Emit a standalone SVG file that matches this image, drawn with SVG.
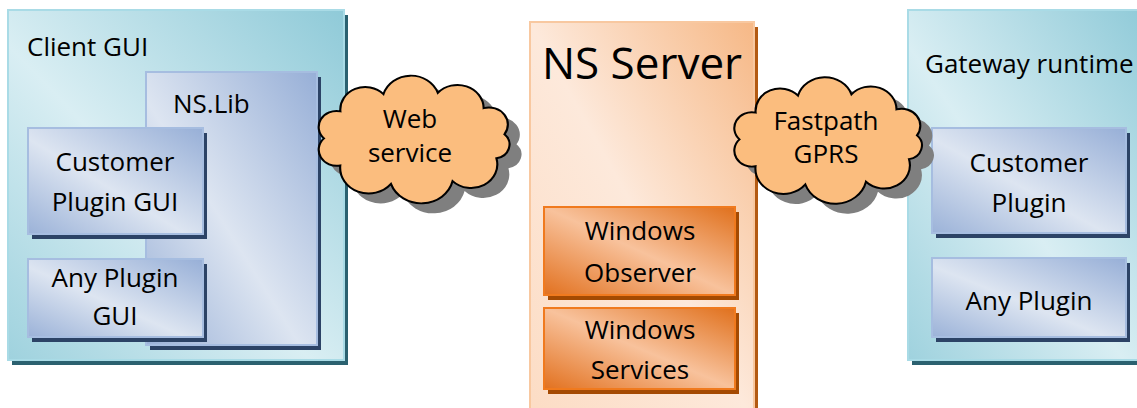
<svg xmlns="http://www.w3.org/2000/svg" width="1137" height="408" viewBox="0 0 1137 408">
<style>
text{font-family:"Open Sans","Liberation Sans",sans-serif;font-size:26px;fill:#000}
.c{text-anchor:middle}
.teal{fill:url(#gTeal);stroke:#a9dbe6;stroke-width:2}
.tealS{fill:#2b6170}
.blue{fill:url(#gBlue);stroke:#a6bde0;stroke-width:2}
.blueS{fill:#2c4366}
.peach{fill:url(#gPeach);stroke:#f8c8a0;stroke-width:2}
.peachS{fill:#b35a12}
.org{fill:url(#gOrg);stroke:#f07a1e;stroke-width:2}
.orgS{fill:#a44a02}
.cloud{fill:#fbbd7e;stroke:#000;stroke-width:1.8}
.cloudS{fill:#7f7f7f}
</style>
<defs>
<linearGradient id="gTeal" x1="0" y1="1" x2="1" y2="0">
<stop offset="0" stop-color="#9fd2de"/><stop offset="0.45" stop-color="#d9eef3"/><stop offset="1" stop-color="#8fcad8"/>
</linearGradient>
<linearGradient id="gBlue" x1="0" y1="1" x2="1" y2="0">
<stop offset="0" stop-color="#9bb2d8"/><stop offset="0.45" stop-color="#dde5f1"/><stop offset="1" stop-color="#97afd7"/>
</linearGradient>
<linearGradient id="gPeach" x1="0" y1="1" x2="1" y2="0">
<stop offset="0" stop-color="#fcdcc4"/><stop offset="0.5" stop-color="#fde9db"/><stop offset="1" stop-color="#f6b886"/>
</linearGradient>
<linearGradient id="gOrg" x1="0" y1="1" x2="1" y2="0">
<stop offset="0" stop-color="#e2711f"/><stop offset="0.5" stop-color="#f8c29c"/><stop offset="1" stop-color="#e0701c"/>
</linearGradient>
<path id="cloudShape" d="M20,62 A15,15 0 0 1 33.8,36.7 A21,21 0 0 1 70,20.6 A24,24 0 0 1 115.7,19.5 A22,22 0 0 1 154.2,33.7 A16,16 0 0 1 171.7,58.2 A13,13 0 0 1 164.9,80.6 A22,22 0 0 1 128.1,101.9 A27,27 0 0 1 76.3,104.5 A24,24 0 0 1 33.7,87.3 A15,15 0 0 1 20,62 Z"/>
</defs>

<g id="client-gui">
<rect class="tealS" x="12" y="15" width="336" height="350"/>
<rect class="teal" x="8" y="10" width="336" height="350"/>
<text x="27" y="56">Client GUI</text>
</g>
<g id="ns-lib">
<rect class="blueS" x="150" y="77" width="171" height="273"/>
<rect class="blue" x="146" y="72" width="171" height="273"/>
<text x="173" y="113">NS.Lib</text>
</g>
<g id="customer-plugin-gui">
<rect class="blueS" x="32" y="133" width="175" height="106"/>
<rect class="blue" x="28" y="128" width="175" height="106"/>
<text class="c" x="115" y="171">Customer</text>
<text class="c" x="115" y="211">Plugin GUI</text>
</g>
<g id="any-plugin-gui">
<rect class="blueS" x="32" y="264" width="175" height="78"/>
<rect class="blue" x="28" y="259" width="175" height="78"/>
<text class="c" x="115" y="287">Any Plugin</text>
<text class="c" x="115" y="325">GUI</text>
</g>

<g id="ns-server">
<rect class="peachS" x="534" y="27" width="224" height="400"/>
<rect class="peach" x="530" y="22" width="224" height="400"/>
<text class="c" x="642" y="79" style="font-size:44px">NS Server</text>
</g>
<g id="windows-observer">
<rect class="orgS" x="548" y="212" width="191" height="88"/>
<rect class="org" x="544" y="207" width="191" height="88"/>
<text class="c" x="640" y="240">Windows</text>
<text class="c" x="640" y="282">Observer</text>
</g>
<g id="windows-services">
<rect class="orgS" x="548" y="313" width="191" height="81"/>
<rect class="org" x="544" y="308" width="191" height="81"/>
<text class="c" x="640" y="339">Windows</text>
<text class="c" x="640" y="379">Services</text>
</g>

<g id="gateway-runtime">
<rect class="tealS" x="912" y="15" width="240" height="350"/>
<rect class="teal" x="908" y="10" width="240" height="350"/>
<text x="925" y="73">Gateway runtime</text>
</g>
<g id="customer-plugin">
<rect class="blueS" x="936" y="133" width="194" height="105"/>
<rect class="blue" x="932" y="128" width="194" height="105"/>
<text class="c" x="1029" y="172">Customer</text>
<text class="c" x="1029" y="212">Plugin</text>
</g>
<g id="any-plugin">
<rect class="blueS" x="936" y="263" width="194" height="79"/>
<rect class="blue" x="932" y="258" width="194" height="79"/>
<text class="c" x="1029" y="310">Any Plugin</text>
</g>

<g id="web-service">
<use href="#cloudShape" class="cloudS" transform="translate(427,150) scale(1.19,1.07) translate(-96.5,-63.5)"/>
<use href="#cloudShape" class="cloud" transform="translate(415,140) scale(1.19,1.07) translate(-96.5,-63.5)"/>
<text class="c" x="410" y="128">Web</text>
<text class="c" x="410" y="162">service</text>
</g>
<g id="fastpath-gprs">
<use href="#cloudShape" class="cloudS" transform="translate(841,151) scale(1.17,1.06) translate(-96.5,-63.5)"/>
<use href="#cloudShape" class="cloud" transform="translate(829,141) scale(1.17,1.06) translate(-96.5,-63.5)"/>
<text class="c" x="826" y="130">Fastpath</text>
<text class="c" x="826" y="163">GPRS</text>
</g>

<g id="connectors"></g>
</svg>
